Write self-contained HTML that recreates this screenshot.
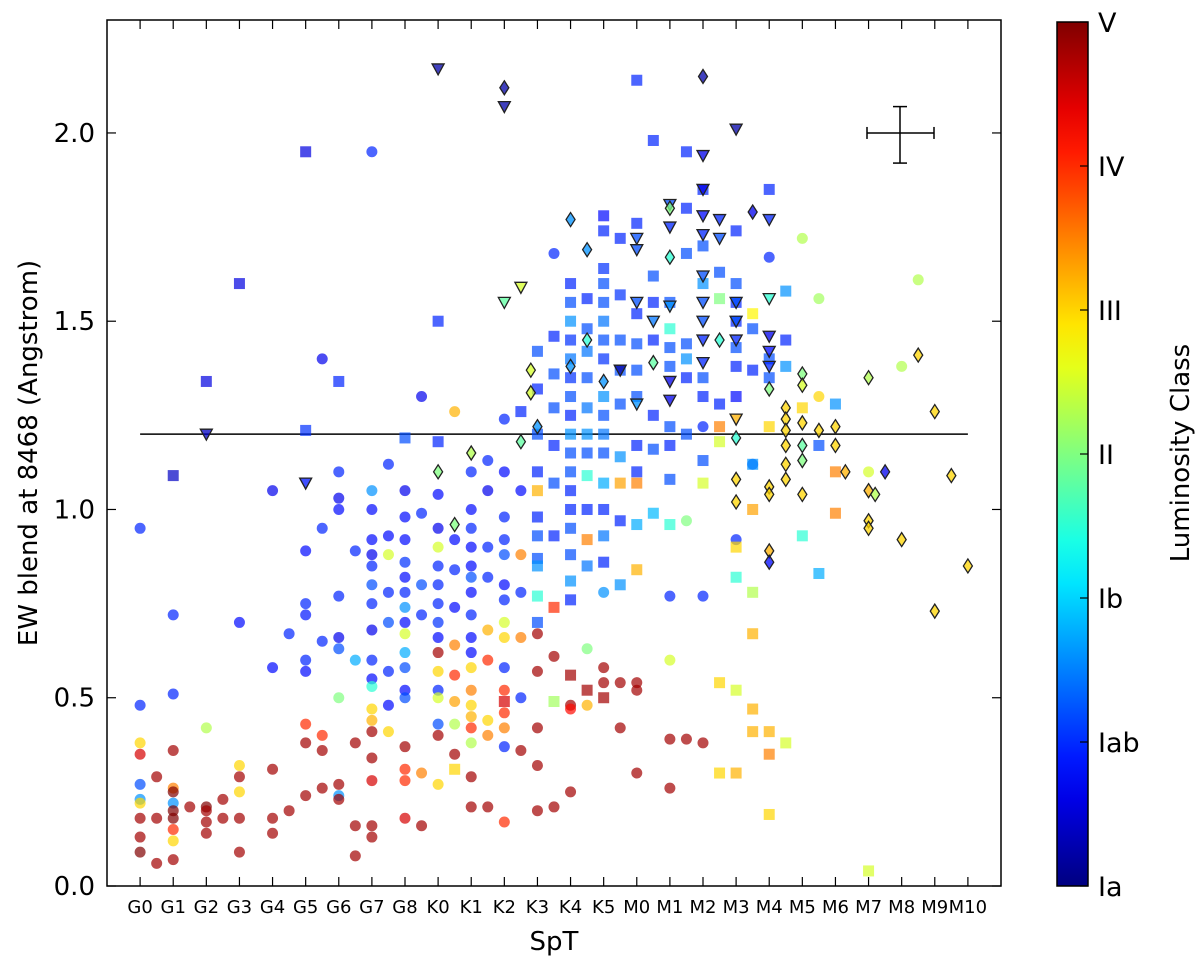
<!DOCTYPE html>
<html><head><meta charset="utf-8">
<style>
body{margin:0;background:#fff;}
svg{display:block;font-family:"DejaVu Sans","Liberation Sans",sans-serif;}
</style></head>
<body>
<svg id="chart" width="1200" height="961" viewBox="0 0 1200 961">
<defs>
<linearGradient id="jet" x1="0" y1="1" x2="0" y2="0"></linearGradient>
<clipPath id="plotclip"><rect x="107" y="20" width="894" height="866"/></clipPath>
</defs>
<g id="marks" clip-path="url(#plotclip)"></g>
<g id="axes"></g>
</svg>
<script>
// categories (spectral types) and data: [sptIndex, EW, luminosityClassValue(0=Ia..6=V)]
const categories=["G0","G1","G2","G3","G4","G5","G6","G7","G8","K0","K1","K2","K3","K4","K5","M0","M1","M2","M3","M4","M5","M6","M7","M8","M9","M10"];
const yTicks=[0.0,0.5,1.0,1.5,2.0];
const lumLabels=["Ia","Iab","Ib","II","III","IV","V"];
const cutLine=1.2;
const circles=[
[0,0.95,1.2],[0,0.48,1.2],[0,0.38,4],[0,0.35,5.5],[0,0.27,1.5],[0,0.23,2],[0,0.18,5.8],[0,0.13,5.8],[0,0.09,6],[0,0.22,4],
[0.5,0.29,5.8],[0.5,0.18,5.8],[0.5,0.06,5.8],
[1,0.72,1.2],[1,0.51,1.2],[1,0.36,5.8],[1,0.26,4.5],[1,0.25,6],[1,0.22,2],[1,0.2,6],[1,0.18,6],[1,0.15,5],[1,0.07,5.8],[1,0.12,4],
[1.5,0.21,5.8],
[2,0.42,3.3],[2,0.21,6],[2,0.2,5.8],[2,0.17,5.8],[2,0.14,5.8],[2.5,0.23,5.8],[2.5,0.18,5.8],
[3,0.7,1],[3,0.32,4],[3,0.29,5.8],[3,0.25,4],[3,0.18,5.8],[3,0.09,5.8],
[4,1.05,0.8],[4,0.58,1],[4,0.31,5.8],[4,0.18,5.8],[4,0.14,5.8],[4.5,0.67,1.2],[4.5,0.2,5.8],
[5,0.89,1],[5,0.75,1.2],[5,0.72,1.1],[5,0.6,1.2],[5,0.57,1],[5,0.43,5],[5,0.38,5.8],[5,0.24,5.8],
[5.5,1.4,0.8],[5.5,0.95,1.2],[5.5,0.65,1.2],[5.5,0.4,5],[5.5,0.36,5.8],[5.5,0.26,5.8],
[6,1.1,1.2],[6,1.03,0.8],[6,1.0,1],[6,0.77,1.2],[6,0.66,0.8],[6,0.63,1.5],[6,0.5,3],[6,0.27,5.8],[6,0.24,2],[6,0.23,5.8],
[6.5,0.89,1.2],[6.5,0.6,2.2],[6.5,0.16,5.8],[6.5,0.08,5.8],[6.5,0.38,5.8],
[7,1.95,1.2],[7,1.05,2],[7,1.0,1],[7,0.92,1],[7,0.88,0.8],[7,0.85,1.2],[7,0.8,1.5],[7,0.75,1.2],[7,0.68,0.8],[7,0.6,1.2],[7,0.55,1],[7,0.53,2.5],[7,0.44,4.2],[7,0.47,4],[7,0.41,5.8],[7,0.34,5.8],[7,0.28,5.5],[7,0.16,5.8],[7,0.13,5.8],
[7.5,1.12,1.2],[7.5,0.93,1],[7.5,0.88,3.5],[7.5,0.78,1.2],[7.5,0.7,1.5],[7.5,0.57,1.2],[7.5,0.48,1],[7.5,0.41,4],
[8,1.05,0.8],[8,0.98,1],[8,0.92,1],[8,0.86,1.3],[8,0.82,1],[8,0.78,1.2],[8,0.74,2],[8,0.7,1],[8,0.67,3.5],[8,0.62,2.2],[8,0.58,1.5],[8,0.52,1],[8,0.5,1.5],[8,0.37,5.8],[8,0.31,5],[8,0.28,5],[8,0.18,5.5],
[8.5,1.3,0.8],[8.5,0.99,1.2],[8.5,0.8,1.5],[8.5,0.72,1.2],[8.5,0.3,4.5],[8.5,0.16,5.8],
[9,1.04,1],[9,0.95,0.8],[9,0.9,3.5],[9,0.85,1.2],[9,0.8,1.2],[9,0.75,1.2],[9,0.7,1.3],[9,0.66,1],[9,0.62,5.8],[9,0.57,4],[9,0.52,1.2],[9,0.5,3.5],[9,0.43,1.5],[9,0.4,5.8],[9,0.27,4],
[9.5,1.26,4.2],[9.5,0.92,1],[9.5,0.84,1.2],[9.5,0.74,1],[9.5,0.64,4.5],[9.5,0.56,5],[9.5,0.49,4.3],[9.5,0.43,3.3],[9.5,0.35,5.8],
[10,1.1,1.2],[10,1.0,1],[10,0.95,1.2],[10,0.9,1],[10,0.85,1],[10,0.82,1.5],[10,0.78,1],[10,0.72,1.2],[10,0.66,1],[10,0.62,1],[10,0.58,4],[10,0.52,4.5],[10,0.48,4],[10,0.45,4.2],[10,0.42,5],[10,0.38,3.3],[10,0.29,5.8],[10,0.21,5.8],
[10.5,1.13,1.2],[10.5,1.05,0.8],[10.5,0.9,1.2],[10.5,0.82,1.2],[10.5,0.68,4.2],[10.5,0.6,5],[10.5,0.44,4],[10.5,0.4,4.5],[10.5,0.21,5.8],
[11,1.24,1.2],[11,1.1,1],[11,0.98,1.2],[11,0.92,1.2],[11,0.88,1.5],[11,0.8,1],[11,0.76,1.2],[11,0.7,3.5],[11,0.66,4],[11,0.58,1.2],[11,0.52,5],[11,0.46,5],[11,0.42,4.5],[11,0.37,1.2],[11,0.17,5],
[11.5,1.05,1],[11.5,0.88,4.5],[11.5,0.78,1.2],[11.5,0.66,4.5],[11.5,0.5,1.2],[11.5,0.36,5.8],
[12,0.57,5.8],[12,0.67,5.8],[12,0.42,5.8],[12,0.32,5.8],[12,0.2,5.8],
[12.5,1.68,1.2],[12.5,0.61,5.8],[12.5,0.21,5.8],
[13,0.48,5.8],[13,0.47,5.2],[13,0.25,5.8],[13.5,0.63,3],[13.5,0.48,4.2],
[14,0.78,2],[14,0.58,5.8],[14,0.54,5.8],[14.5,0.54,5.8],[14.5,0.42,5.8],
[15,0.54,5.8],[15,0.52,5.8],[15,0.3,5.8],
[16,0.77,1.2],[16,0.6,3.5],[16,0.39,5.8],[16,0.26,5.8],[16.5,0.97,3],[16.5,0.39,5.8],
[17,0.77,1.2],[17,0.38,5.8],[17,1.22,1.2],[18,0.92,1.2],[18.5,1.12,1.5],[19,1.67,1.2],
[20,1.72,3.3],[20.5,1.56,3.2],[20.5,1.3,4],[22,1.1,3.5],[23,1.38,3.3],[23.5,1.61,3.3]
];
const squares=[
[1,1.09,0.5],[2,1.34,0.7],[3,1.6,0.7],[5,1.95,0.7],[5,1.21,1.3],[6,1.34,1.2],[8,1.19,1.5],[9,1.5,1.2],[9,1.18,1.2],[9.5,0.31,4],
[11,0.49,5.5],[11.5,1.26,1.2],
[12,1.42,1.5],[12,1.32,1.2],[12,1.2,1.5],[12,1.1,1.2],[12,1.05,4.2],[12,0.98,1.2],[12,0.93,1.5],[12,0.87,1.5],[12,0.85,2],[12,0.77,2.5],[12,0.7,1.5],
[12.5,1.46,1.2],[12.5,1.36,1.5],[12.5,1.27,1.5],[12.5,1.17,1.2],[12.5,1.07,1.5],[12.5,0.93,1.2],[12.5,0.74,5],[12.5,0.49,3.2],
[13,1.6,1.2],[13,1.55,1.5],[13,1.5,2],[13,1.45,1.3],[13,1.4,1.8],[13,1.35,1.3],[13,1.3,1.5],[13,1.25,1.2],[13,1.2,2],[13,1.15,1.5],[13,1.1,1.5],[13,1.05,1.2],[13,1.0,1.2],[13,0.95,1.5],[13,0.88,1.5],[13,0.81,2],[13,0.76,1.2],[13,0.56,5.8],
[13.5,1.56,1.2],[13.5,1.48,1.5],[13.5,1.42,1.8],[13.5,1.35,1.5],[13.5,1.27,1.8],[13.5,1.2,2],[13.5,1.15,1.5],[13.5,1.09,2.5],[13.5,1.0,1.2],[13.5,0.92,4.5],[13.5,0.85,1.8],[13.5,0.52,5.8],
[14,1.78,1],[14,1.74,1.2],[14,1.64,1.3],[14,1.6,1.5],[14,1.55,1.5],[14,1.5,1.8],[14,1.45,1.5],[14,1.4,1.3],[14,1.3,2],[14,1.25,1.5],[14,1.2,1.8],[14,1.15,1.5],[14,1.07,2.2],[14,1.0,1.2],[14,0.93,1.8],[14,0.86,1.2],[14,0.5,5.8],
[14.5,1.72,1.2],[14.5,1.57,1.3],[14.5,1.45,1.5],[14.5,1.37,1.5],[14.5,1.28,1.5],[14.5,1.14,2],[14.5,1.07,4.3],[14.5,0.97,1.2],[14.5,0.8,2],
[15,2.14,1.2],[15,1.76,1.2],[15,1.52,1.2],[15,1.44,1.5],[15,1.37,1.5],[15,1.3,1.5],[15,1.17,1.2],[15,1.1,1.2],[15,1.07,4.5],[15,0.96,2.2],[15,0.84,4.2],
[15.5,1.98,1.2],[15.5,1.62,1.5],[15.5,1.55,1.2],[15.5,1.45,1.2],[15.5,1.25,1.2],[15.5,1.16,1.5],[15.5,0.99,2.3],
[16,1.55,1.5],[16,1.48,2.5],[16,1.43,1.5],[16,1.38,1.5],[16,1.22,1.5],[16,1.17,1.2],[16,1.08,1.5],[16,0.96,2.5],
[16.5,1.95,1.2],[16.5,1.8,1.2],[16.5,1.68,1.5],[16.5,1.44,1.5],[16.5,1.4,2],[16.5,1.35,1.2],[16.5,1.2,1.5],
[17,1.85,1.2],[17,1.7,1.5],[17,1.6,2],[17,1.35,1.5],[17,1.3,1.2],[17,1.13,1.5],[17,1.07,3.5],
[17.5,1.63,1.5],[17.5,1.56,3],[17.5,1.28,1.2],[17.5,1.22,4.5],[17.5,1.18,3.5],[17.5,0.54,4],[17.5,0.3,4],
[18,1.74,1.2],[18,1.6,1.5],[18,1.55,1.2],[18,1.5,1.2],[18,1.43,1.5],[18,1.38,1.2],[18,1.3,1],[18,0.9,4],[18,0.82,2.5],[18,0.52,3.5],[18,0.3,4.2],
[18.5,1.52,3.8],[18.5,1.48,1.5],[18.5,1.37,1.2],[18.5,1.12,2],[18.5,1.0,4.3],[18.5,0.78,3.3],[18.5,0.67,4.2],[18.5,0.47,4.2],[18.5,0.41,4.2],
[19,1.85,1.2],[19,1.4,1.5],[19,1.35,1.5],[19,1.22,4],[19,0.41,4.2],[19,0.35,4.5],[19,0.19,4],
[19.5,1.58,2],[19.5,1.45,1.2],[19.5,1.38,2],[19.5,0.38,3.5],
[20,1.27,4],[20,0.93,2.5],[20.5,1.17,1.5],[20.5,0.83,2.2],
[21,1.28,2],[21,1.1,4.5],[21,0.99,4.5],[22,0.04,3.5]
];
const triangles=[
[2,1.2,0.5],[5,1.07,1.1],[9,2.17,0.3],[11,2.07,0.3],[11,1.55,2.8],[11.5,1.59,3.5],[14.5,1.37,0.3],
[15,1.72,1.5],[15,1.69,1.5],[15,1.55,1.5],[15,1.28,2],[15.5,1.5,1.8],
[16,1.81,1.5],[16,1.75,1.2],[16,1.54,2],[16,1.34,0.8],[16,1.29,0.8],
[17,1.94,0.8],[17,1.85,0.8],[17,1.78,1],[17,1.73,1.2],[17,1.62,1.5],[17,1.55,1.5],[17,1.5,1.5],[17,1.45,1.2],[17,1.39,1.2],
[17.5,1.77,1.2],[17.5,1.72,1.5],
[18,2.01,0.3],[18,1.55,1.5],[18,1.5,1.5],[18,1.45,1.2],[18,1.24,4.2],
[19,1.77,1.2],[19,1.56,2.5],[19,1.46,0.8],[19,1.42,1],[19,1.38,1.2]
];
const diamonds=[
[9,1.1,3],[9.5,0.96,3],[10,1.15,3.3],[11,2.12,0.3],[11.5,1.18,2.8],[11.8,1.31,3.5],[11.8,1.37,3.5],[12,1.22,2],
[13,1.77,2],[13,1.38,2],[13.5,1.69,2],[13.5,1.45,2.5],[14,1.34,2],[15.5,1.39,2.8],
[16,1.67,2.5],[16,1.8,3],[17,2.15,0.3],[17.5,1.45,2.5],[18,1.19,2.5],[18,1.08,4],[18,1.02,4],[18.5,1.79,0.8],
[19,1.32,3],[19,1.06,4],[19,1.04,4],[19,0.89,4.2],[19,0.86,1],
[19.5,1.27,4],[19.5,1.24,4],[19.5,1.21,4],[19.5,1.17,4],[19.5,1.12,4],[19.5,1.08,4],
[20,1.36,3],[20,1.33,3.5],[20,1.23,4],[20,1.17,2.8],[20,1.13,3],[20,1.04,4],[20.5,1.21,4],
[21,1.22,4],[21,1.17,4],[21.3,1.1,4.2],[22,1.35,3.3],[22,1.05,4.2],[22,0.97,4],[22,0.95,4],[22.2,1.04,3.3],[22.5,1.1,0.8],
[23,0.92,4],[23.5,1.41,4],[24,1.26,4],[24,0.73,4],[24.5,1.09,4],[25,0.85,4]
];
const NS="http://www.w3.org/2000/svg";
const X0=107,X1=1001,Y0=886,Y1=20;
function xs(i){return X0+(i+1)*(X1-X0)/27;}
function ys(v){return Y0-(v/2.3)*(Y0-Y1);}
function jet(t){const c=x=>Math.round(255*Math.max(0,Math.min(1,x)));
return `rgb(${c(1.5-Math.abs(4*t-3))},${c(1.5-Math.abs(4*t-2))},${c(1.5-Math.abs(4*t-1))})`;}
function col(v){const w=v<2.5?v*0.8:v;return jet(w/6);}
function mk(tag,attrs,parent){const e=document.createElementNS(NS,tag);for(const k in attrs)e.setAttribute(k,attrs[k]);parent.appendChild(e);return e;}
const grad=document.getElementById('jet');
for(let i=0;i<=20;i++){mk('stop',{offset:i/20,'stop-color':jet(i/20)},grad);}
const marks=document.getElementById('marks');
const axes=document.getElementById('axes');
const ln=mk('line',{x1:xs(0),x2:xs(25),y1:ys(cutLine),y2:ys(cutLine),stroke:'#000','stroke-width':1.5},marks);


circles.forEach(d=>{const e=mk('circle',{cx:xs(d[0]),cy:ys(d[1]),r:5.5,fill:col(d[2]),'fill-opacity':0.7},marks);

});
squares.forEach(d=>{const e=mk('rect',{x:xs(d[0])-5.5,y:ys(d[1])-5.5,width:11,height:11,fill:col(d[2]),'fill-opacity':0.7},marks);

});
triangles.forEach(d=>{const x=xs(d[0]),y=ys(d[1]);const e=mk('polygon',{points:`${x-6},${y-5} ${x+6},${y-5} ${x},${y+6}`,fill:col(d[2]),'fill-opacity':0.75,stroke:'#222','stroke-width':1.3},marks);

});
diamonds.forEach(d=>{const x=xs(d[0]),y=ys(d[1]);const e=mk('polygon',{points:`${x},${y-7} ${x+4.5},${y} ${x},${y+7} ${x-4.5},${y}`,fill:col(d[2]),'fill-opacity':0.75,stroke:'#222','stroke-width':1.3},marks);

});
// error bar
const eb=mk('g',{stroke:'#000','stroke-width':1.5},marks);


mk('line',{x1:867,x2:934,y1:ys(2.0),y2:ys(2.0)},eb);mk('line',{x1:900,x2:900,y1:ys(2.07),y2:ys(1.92)},eb);
mk('line',{x1:867,x2:867,y1:ys(2.0)-6,y2:ys(2.0)+6},eb);mk('line',{x1:934,x2:934,y1:ys(2.0)-6,y2:ys(2.0)+6},eb);
mk('line',{x1:893,x2:907,y1:ys(2.07),y2:ys(2.07)},eb);mk('line',{x1:893,x2:907,y1:ys(1.92),y2:ys(1.92)},eb);
// frame
const fr=mk('rect',{x:X0,y:Y1,width:X1-X0,height:Y0-Y1,fill:'none',stroke:'#000','stroke-width':1.5},axes);


yTicks.forEach(v=>{const y=ys(v);mk('line',{x1:X0,x2:X0+9,y1:y,y2:y,stroke:'#000','stroke-width':1.2},axes);mk('line',{x1:X1-9,x2:X1,y1:y,y2:y,stroke:'#000','stroke-width':1.2},axes);
const t=mk('text',{x:X0-12,y:y+9,'text-anchor':'end','font-size':26},axes);t.textContent=v.toFixed(1);

});
categories.forEach((c,i)=>{const x=xs(i);mk('line',{x1:x,x2:x,y1:Y0,y2:Y0-9,stroke:'#000','stroke-width':1.2},axes);mk('line',{x1:x,x2:x,y1:Y1,y2:Y1+9,stroke:'#000','stroke-width':1.2},axes);
const t=mk('text',{x:x,y:913,'text-anchor':'middle','font-size':18},axes);t.textContent=c;

});
const xt=mk('text',{x:554,y:950,'text-anchor':'middle','font-size':26},axes);xt.textContent='SpT';


const yt=mk('text',{x:0,y:0,'text-anchor':'middle','font-size':26,transform:'translate(37,453) rotate(-90)'},axes);yt.textContent='EW blend at 8468 (Angstrom)';


// colorbar
const cb=mk('rect',{x:1057,y:22,width:31,height:864,fill:'url(#jet)',stroke:'#000','stroke-width':1.5},axes);


lumLabels.forEach((l,i)=>{const y=886-i*144;mk('line',{x1:1080,x2:1088,y1:y,y2:y,stroke:'#000','stroke-width':1.2},axes);
const t=mk('text',{x:1098,y:y+10,'font-size':27},axes);t.textContent=l;

});
const ct=mk('text',{x:0,y:0,'text-anchor':'middle','font-size':26,transform:'translate(1189,453) rotate(-90)'},axes);ct.textContent='Luminosity Class';


</script>
</body></html>
